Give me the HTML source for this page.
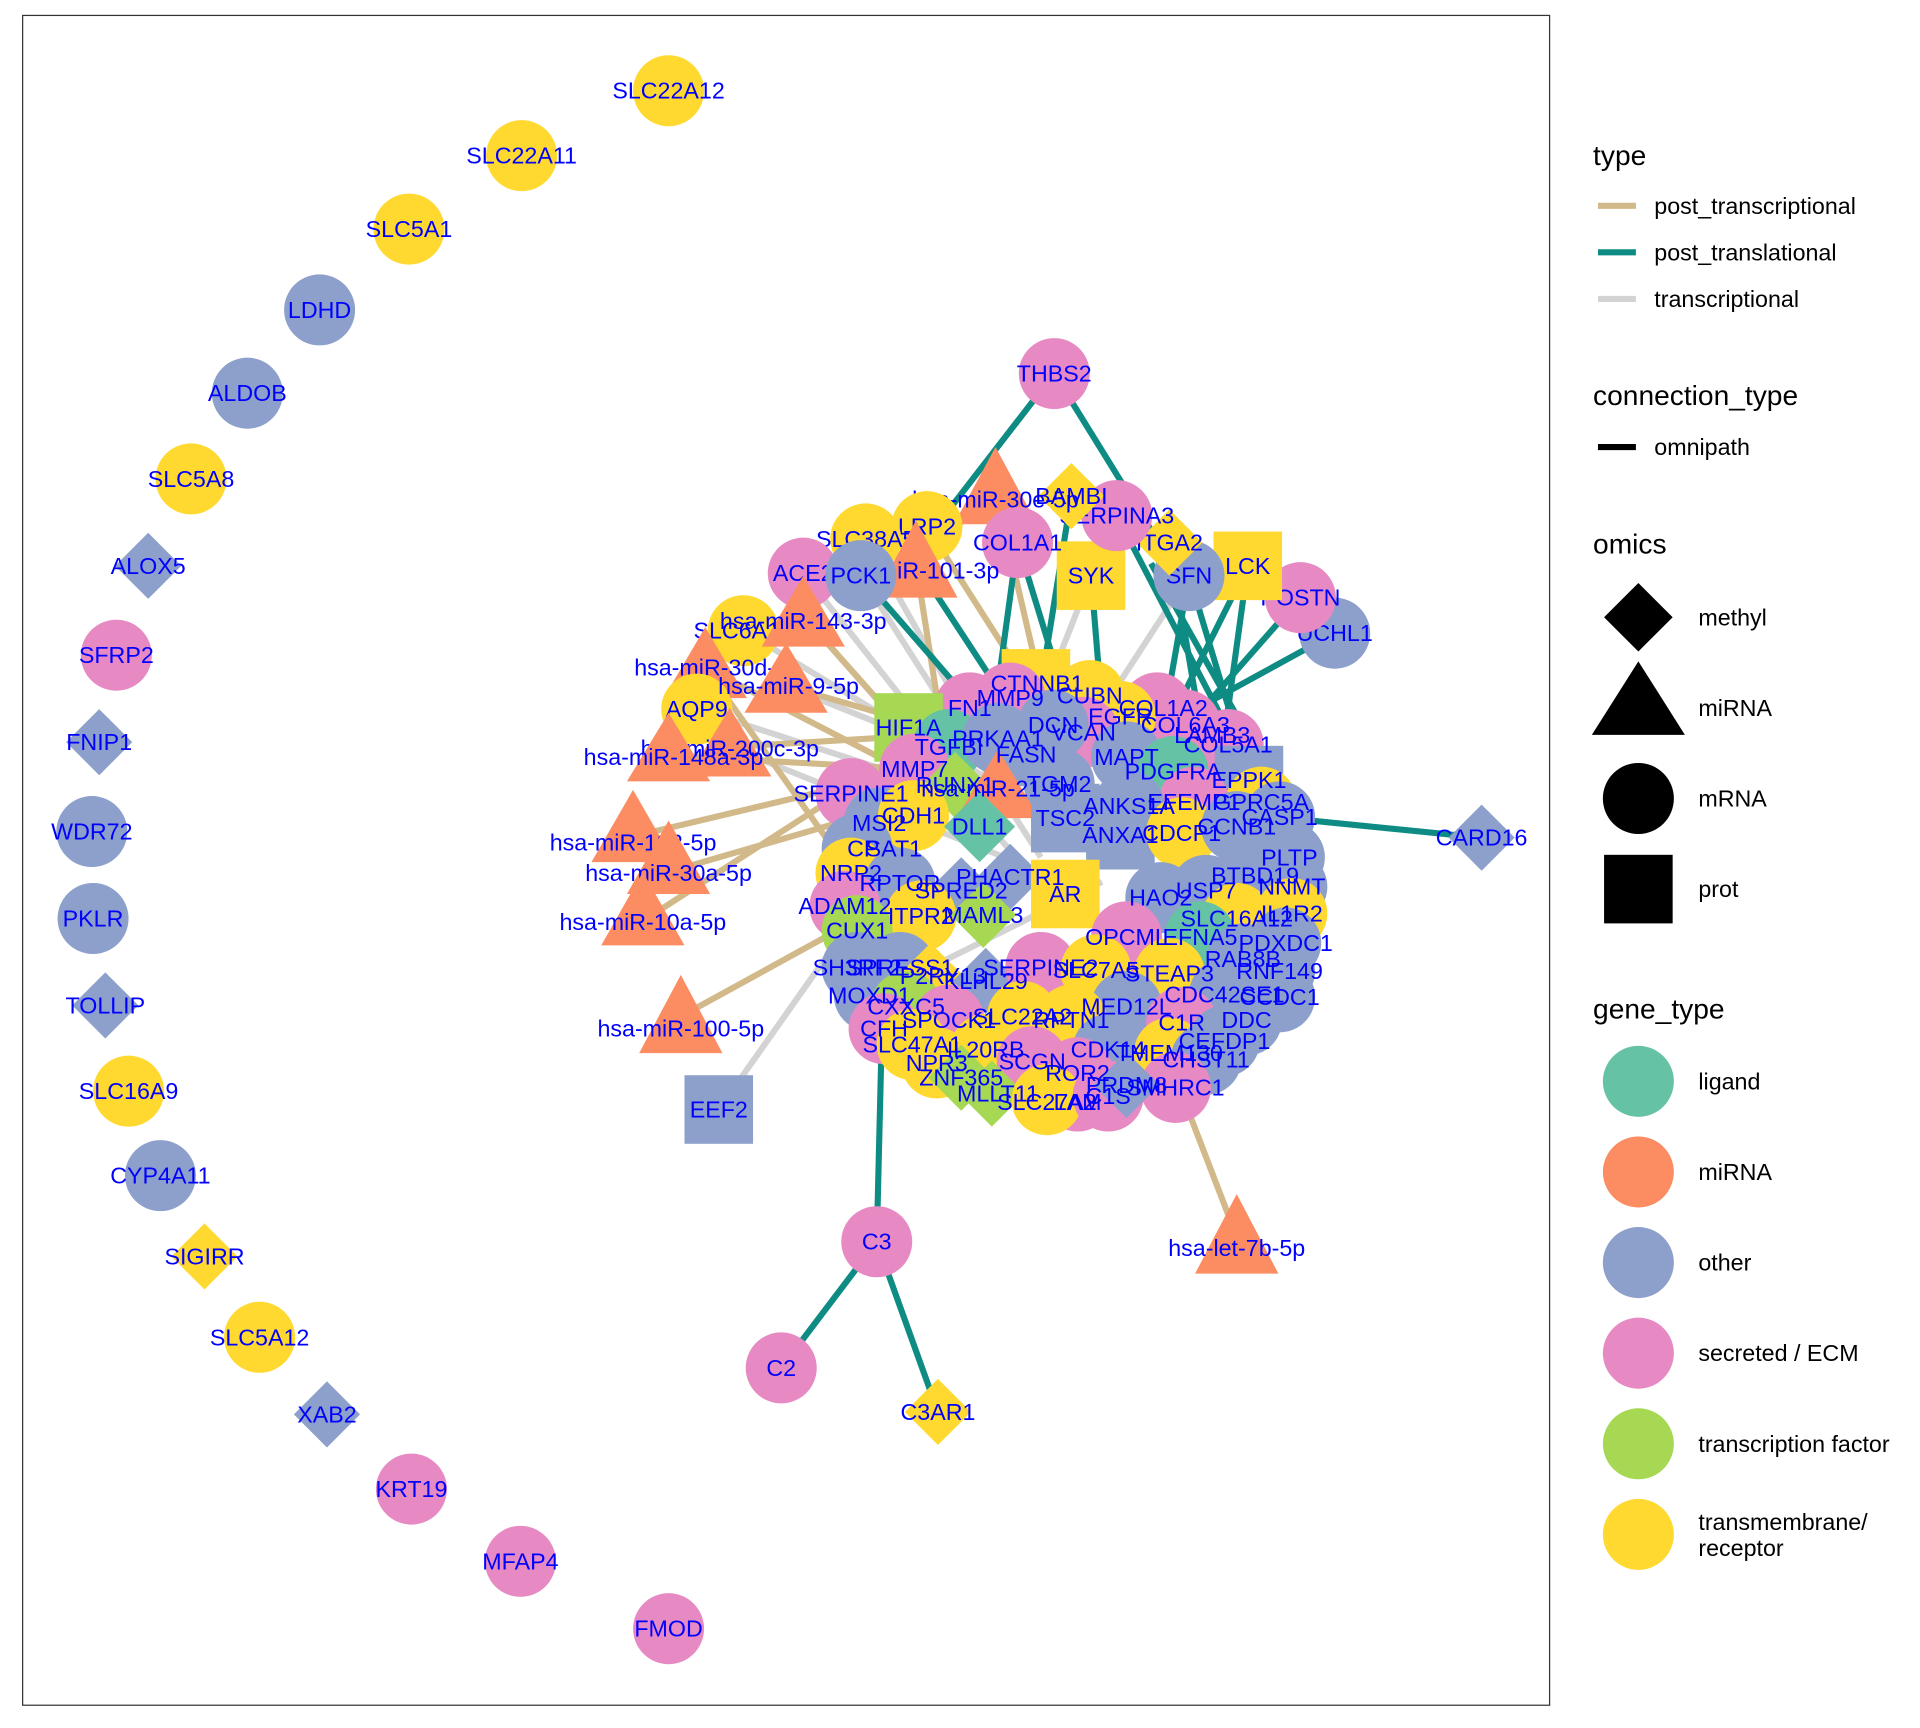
<!DOCTYPE html>
<html><head><meta charset="utf-8"><style>
html,body{margin:0;padding:0;background:#fff;}
svg{display:block;}
text{font-family:"Liberation Sans",Arial,sans-serif;}
.l{fill:#0000FF;font-size:19px;text-anchor:middle;dominant-baseline:central;}
.g{fill:#000;font-size:19px;dominant-baseline:central;}
.h{fill:#000;font-size:23px;dominant-baseline:central;}
.Y{fill:#FFD92F}.O{fill:#8DA0CB}.P{fill:#E78AC3}.T{fill:#66C2A5}.M{fill:#FC8D62}.F{fill:#A6D854}
.et{stroke:#0E8C84;stroke-width:5;fill:none}
.en{stroke:#D2B98A;stroke-width:5;fill:none}
.eg{stroke:#D3D3D3;stroke-width:5;fill:none}
</style></head><body>
<svg width="1920" height="1728" viewBox="0 0 1568 1411" xmlns="http://www.w3.org/2000/svg">
<rect x="18.5" y="12.5" width="1247" height="1380" fill="#fff" stroke="#333" stroke-width="1"/>
<g class="eg">
<path d="M587,906 L690,760"/><path d="M891,470 L840,600"/><path d="M971,470 L880,610"/><path d="M642,560 L840,640"/><path d="M607,515 L830,650"/><path d="M707,440 L820,640"/><path d="M656,468 L800,650"/><path d="M656,503 L830,700"/><path d="M569,579 L820,660"/><path d="M596,610 L870,720"/><path d="M703,470 L850,700"/><path d="M760,790 L900,720"/>
</g>
<g class="en">
<path d="M556,830 L720,740"/><path d="M1010,1010 L960,880"/><path d="M517,683 L740,630"/><path d="M546,712 L760,650"/><path d="M525,752 L730,620"/><path d="M550,617 L780,630"/><path d="M596,610 L760,600"/><path d="M576,545 L760,640"/><path d="M642,560 L780,600"/><path d="M656,503 L760,620"/><path d="M748,460 L770,600"/><path d="M813,400 L760,450"/><path d="M813,400 L850,560"/><path d="M757,430 L840,560"/><path d="M576,545 L700,720"/>
</g>
<g class="et">
<path d="M861,305 L745,455"/><path d="M861,305 L960,465"/><path d="M716,1014 L638,1117"/><path d="M716,1014 L766,1153"/><path d="M716,1014 L720,850"/><path d="M1210,684 L1040,667"/><path d="M1090,517 L975,580"/><path d="M1062,488 L990,570"/><path d="M1019,462 L960,580"/><path d="M1019,462 L1000,600"/><path d="M971,470 L950,590"/><path d="M971,470 L1010,600"/><path d="M955,443 L980,590"/><path d="M891,470 L900,580"/><path d="M912,421 L1000,590"/><path d="M831,443 L815,560"/><path d="M831,443 L870,570"/><path d="M875,405 L850,560"/><path d="M748,460 L820,570"/><path d="M703,470 L790,570"/><path d="M940,460 L1030,620"/>
</g>
<circle class="Y" cx="546" cy="74" r="29"/><text class="l" x="546" y="74">SLC22A12</text>
<circle class="Y" cx="426" cy="127" r="29"/><text class="l" x="426" y="127">SLC22A11</text>
<circle class="Y" cx="334" cy="187" r="29"/><text class="l" x="334" y="187">SLC5A1</text>
<circle class="O" cx="261" cy="253" r="29"/><text class="l" x="261" y="253">LDHD</text>
<circle class="O" cx="202" cy="321" r="29"/><text class="l" x="202" y="321">ALDOB</text>
<circle class="Y" cx="156" cy="391" r="29"/><text class="l" x="156" y="391">SLC5A8</text>
<polygon class="O" points="121,435 148,462 121,489 94,462"/><text class="l" x="121" y="462">ALOX5</text>
<circle class="P" cx="95" cy="535" r="29"/><text class="l" x="95" y="535">SFRP2</text>
<polygon class="O" points="81,579 108,606 81,633 54,606"/><text class="l" x="81" y="606">FNIP1</text>
<circle class="O" cx="75" cy="679" r="29"/><text class="l" x="75" y="679">WDR72</text>
<circle class="O" cx="76" cy="750" r="29"/><text class="l" x="76" y="750">PKLR</text>
<polygon class="O" points="86,794 113,821 86,848 59,821"/><text class="l" x="86" y="821">TOLLIP</text>
<circle class="Y" cx="105" cy="891" r="29"/><text class="l" x="105" y="891">SLC16A9</text>
<circle class="O" cx="131" cy="960" r="29"/><text class="l" x="131" y="960">CYP4A11</text>
<polygon class="Y" points="167,999 194,1026 167,1053 140,1026"/><text class="l" x="167" y="1026">SIGIRR</text>
<circle class="Y" cx="212" cy="1092" r="29"/><text class="l" x="212" y="1092">SLC5A12</text>
<polygon class="O" points="267,1128 294,1155 267,1182 240,1155"/><text class="l" x="267" y="1155">XAB2</text>
<circle class="P" cx="336" cy="1216" r="29"/><text class="l" x="336" y="1216">KRT19</text>
<circle class="P" cx="425" cy="1275" r="29"/><text class="l" x="425" y="1275">MFAP4</text>
<circle class="P" cx="546" cy="1330" r="29"/><text class="l" x="546" y="1330">FMOD</text>
<circle class="P" cx="861" cy="305" r="29"/><text class="l" x="861" y="305">THBS2</text>
<polygon class="O" points="1210,657 1237,684 1210,711 1183,684"/><text class="l" x="1210" y="684">CARD16</text>
<circle class="P" cx="638" cy="1117" r="29"/><text class="l" x="638" y="1117">C2</text>
<polygon class="Y" points="766,1126 793,1153 766,1180 739,1153"/><text class="l" x="766" y="1153">C3AR1</text>
<circle class="P" cx="716" cy="1014" r="29"/><text class="l" x="716" y="1014">C3</text>
<polygon class="M" points="1010,975 1044,1040 976,1040"/><text class="l" x="1010" y="1019">hsa-let-7b-5p</text>
<rect class="O" x="559" y="878" width="56" height="56"/><text class="l" x="587" y="906">EEF2</text>
<polygon class="M" points="556,796 590,860 522,860"/><text class="l" x="556" y="840">hsa-miR-100-5p</text>
<circle class="O" cx="1090" cy="517" r="29"/><text class="l" x="1090" y="517">UCHL1</text>
<circle class="P" cx="1062" cy="488" r="29"/><text class="l" x="1062" y="488">POSTN</text>
<rect class="Y" x="991" y="434" width="56" height="56"/><text class="l" x="1019" y="462">LCK</text>
<circle class="O" cx="971" cy="470" r="29"/><text class="l" x="971" y="470">SFN</text>
<polygon class="Y" points="955,416 982,443 955,470 928,443"/><text class="l" x="955" y="443">ITGA2</text>
<rect class="Y" x="863" y="442" width="56" height="56"/><text class="l" x="891" y="470">SYK</text>
<circle class="P" cx="912" cy="421" r="29"/><text class="l" x="912" y="421">SERPINA3</text>
<polygon class="Y" points="875,378 902,405 875,432 848,405"/><text class="l" x="875" y="405">BAMBI</text>
<polygon class="M" points="813,365 847,428 779,428"/><text class="l" x="813" y="408">hsa-miR-30e-5p</text>
<circle class="P" cx="831" cy="443" r="29"/><text class="l" x="831" y="443">COL1A1</text>
<circle class="Y" cx="757" cy="430" r="29"/><text class="l" x="757" y="430">LRP2</text>
<circle class="Y" cx="707" cy="440" r="29"/><text class="l" x="707" y="440">SLC38A5</text>
<polygon class="M" points="748,425 782,488 714,488"/><text class="l" x="748" y="466">hsa-miR-101-3p</text>
<circle class="P" cx="656" cy="468" r="29"/><text class="l" x="656" y="468">ACE2</text>
<circle class="O" cx="703" cy="470" r="29"/><text class="l" x="703" y="470">PCK1</text>
<circle class="Y" cx="607" cy="515" r="29"/><text class="l" x="607" y="515">SLC6A19</text>
<polygon class="M" points="656,470 690,528 622,528"/><text class="l" x="656" y="507">hsa-miR-143-3p</text>
<polygon class="M" points="576,512 610,570 542,570"/><text class="l" x="586" y="545">hsa-miR-30d-5p</text>
<circle class="Y" cx="569" cy="579" r="29"/><text class="l" x="569" y="579">AQP9</text>
<polygon class="M" points="642,525 676,582 608,582"/><text class="l" x="644" y="560">hsa-miR-9-5p</text>
<polygon class="M" points="596,578 630,634 562,634"/><text class="l" x="596" y="611">hsa-miR-200c-3p</text>
<polygon class="M" points="546,582 580,638 512,638"/><text class="l" x="550" y="618">hsa-miR-148a-3p</text>
<polygon class="M" points="517,645 551,704 483,704"/><text class="l" x="517" y="688">hsa-miR-192-5p</text>
<polygon class="M" points="546,670 580,730 512,730"/><text class="l" x="546" y="713">hsa-miR-30a-5p</text>
<polygon class="M" points="525,712 559,772 491,772"/><text class="l" x="525" y="753">hsa-miR-10a-5p</text>
<g>
<rect class="Y" x="818" y="530" width="56" height="56"/>
<circle class="Y" cx="890" cy="568" r="29"/><circle class="P" cx="825" cy="570" r="29"/><circle class="P" cx="792" cy="578" r="29"/>
<circle class="P" cx="945" cy="578" r="29"/><circle class="P" cx="968" cy="592" r="29"/><circle class="P" cx="1003" cy="608" r="29"/>
<circle class="Y" cx="915" cy="585" r="29"/><circle class="P" cx="885" cy="598" r="29"/><circle class="O" cx="860" cy="592" r="29"/>
<rect class="F" x="714" y="566" width="56" height="56"/>
<circle class="T" cx="775" cy="608" r="29"/><circle class="O" cx="815" cy="603" r="29"/>
<rect class="O" x="810" y="592" width="56" height="50"/>
<circle class="O" cx="920" cy="618" r="29"/><circle class="T" cx="958" cy="630" r="29"/>
<rect class="O" x="992" y="609" width="56" height="56"/>
<circle class="Y" cx="1030" cy="655" r="29"/><circle class="P" cx="975" cy="655" r="29"/>
<circle class="P" cx="747" cy="628" r="29"/><circle class="P" cx="695" cy="648" r="29"/>
<polygon class="F" points="780,614 807,641 780,668 753,641"/>
<circle class="O" cx="865" cy="640" r="29"/><circle class="O" cx="922" cy="658" r="29"/>
<circle class="O" cx="1045" cy="667" r="29"/>
<polygon class="M" points="815,612 849,668 781,668"/>
<circle class="O" cx="718" cy="672" r="29"/><circle class="Y" cx="746" cy="666" r="29"/>
<polygon class="T" points="800,646 829,675 800,704 771,675"/>
<rect class="O" x="842" y="640" width="56" height="56"/><rect class="O" x="887" y="654" width="56" height="56"/>
<circle class="Y" cx="965" cy="680" r="29"/><circle class="O" cx="1010" cy="675" r="29"/><circle class="O" cx="1053" cy="700" r="29"/>
<circle class="O" cx="700" cy="693" r="29"/><circle class="Y" cx="695" cy="713" r="29"/><circle class="O" cx="735" cy="721" r="29"/>
<polygon class="O" points="825,689 852,716 825,743 798,716"/><polygon class="O" points="785,700 812,727 785,754 758,727"/>
<rect class="Y" x="842" y="702" width="56" height="56"/>
<circle class="O" cx="948" cy="733" r="29"/><circle class="O" cx="985" cy="727" r="29"/><circle class="O" cx="1025" cy="715" r="29"/><circle class="O" cx="1055" cy="724" r="29"/>
<circle class="P" cx="690" cy="740" r="29"/><circle class="Y" cx="752" cy="748" r="29"/>
<polygon class="F" points="803,720 830,747 803,774 776,747"/>
<circle class="Y" cx="1010" cy="750" r="29"/><circle class="Y" cx="1055" cy="746" r="29"/>
<circle class="F" cx="700" cy="760" r="29"/><circle class="P" cx="920" cy="765" r="29"/><circle class="T" cx="980" cy="765" r="29"/><circle class="O" cx="1050" cy="770" r="29"/>
<circle class="O" cx="700" cy="790" r="29"/><circle class="O" cx="735" cy="790" r="29"/>
<polygon class="Y" points="760,770 787,797 760,824 733,797"/><polygon class="O" points="805,774 832,801 805,828 778,801"/>
<circle class="P" cx="850" cy="790" r="29"/><circle class="Y" cx="895" cy="792" r="29"/><circle class="Y" cx="955" cy="795" r="29"/>
<circle class="O" cx="1015" cy="783" r="29"/><circle class="O" cx="1045" cy="793" r="29"/>
<circle class="O" cx="710" cy="813" r="29"/><circle class="F" cx="740" cy="822" r="29"/><circle class="O" cx="920" cy="822" r="29"/>
<circle class="O" cx="1000" cy="812" r="29"/><circle class="O" cx="1045" cy="814" r="29"/>
<circle class="P" cx="722" cy="840" r="29"/><circle class="P" cx="775" cy="833" r="29"/><circle class="Y" cx="835" cy="830" r="29"/><circle class="Y" cx="875" cy="833" r="29"/>
<circle class="P" cx="965" cy="835" r="29"/><circle class="O" cx="1018" cy="833" r="29"/>
<circle class="Y" cx="745" cy="853" r="29"/><circle class="Y" cx="805" cy="857" r="29"/><circle class="O" cx="1000" cy="850" r="29"/>
<circle class="Y" cx="765" cy="868" r="29"/><circle class="P" cx="843" cy="867" r="29"/><circle class="O" cx="905" cy="857" r="29"/>
<circle class="Y" cx="955" cy="860" r="29"/><circle class="O" cx="985" cy="865" r="29"/>
<polygon class="F" points="785,853 812,880 785,907 758,880"/><polygon class="F" points="810,866 837,893 810,920 783,893"/>
<circle class="P" cx="880" cy="895" r="29"/><circle class="P" cx="880" cy="876" r="29"/><circle class="Y" cx="855" cy="898" r="29"/>
<circle class="P" cx="960" cy="888" r="29"/><circle class="P" cx="905" cy="895" r="29"/><polygon class="O" points="920,859 947,886 920,913 893,886"/>
</g>
<g>
<text class="l" x="847" y="558">CTNNB1</text><text class="l" x="890" y="568">CUBN</text><text class="l" x="825" y="570">MMP9</text><text class="l" x="792" y="578">FN1</text>
<text class="l" x="742" y="594">HIF1A</text><text class="l" x="775" y="610">TGFBI</text><text class="l" x="815" y="603">PRKAA1</text>
<text class="l" x="860" y="592">DCN</text><text class="l" x="915" y="585">EGFR</text><text class="l" x="950" y="578">COL1A2</text>
<text class="l" x="968" y="592">COL6A3</text><text class="l" x="990" y="600">LAMB3</text><text class="l" x="885" y="598">VCAN</text>
<text class="l" x="838" y="616">FASN</text><text class="l" x="920" y="618">MAPT</text><text class="l" x="958" y="630">PDGFRA</text>
<text class="l" x="1003" y="608">COL5A1</text><text class="l" x="1020" y="637">EPPK1</text><text class="l" x="747" y="628">MMP7</text>
<text class="l" x="780" y="641">RUNX1</text><text class="l" x="815" y="644">hsa-miR-21-5p</text><text class="l" x="865" y="640">TGM2</text>
<text class="l" x="922" y="658">ANKS1A</text><text class="l" x="975" y="655">EFEMP1</text><text class="l" x="1030" y="655">GPRC5A</text>
<text class="l" x="1045" y="667">CASP1</text><text class="l" x="695" y="648">SERPINE1</text><text class="l" x="718" y="672">MSI2</text>
<text class="l" x="746" y="666">CDH1</text><text class="l" x="800" y="675">DLL1</text><text class="l" x="870" y="668">TSC2</text>
<text class="l" x="915" y="682">ANXA1</text><text class="l" x="965" y="680">CDCP1</text><text class="l" x="1010" y="675">CCNB1</text>
<text class="l" x="1053" y="700">PLTP</text><text class="l" x="705" y="693">CP</text><text class="l" x="730" y="693">SAT1</text>
<text class="l" x="695" y="713">NRP2</text><text class="l" x="735" y="721">RPTOR</text><text class="l" x="825" y="716">PHACTR1</text>
<text class="l" x="785" y="727">SPRED2</text><text class="l" x="870" y="730">AR</text><text class="l" x="948" y="733">HAO2</text>
<text class="l" x="985" y="727">USP7</text><text class="l" x="1025" y="715">BTBD19</text><text class="l" x="1055" y="724">NNMT</text>
<text class="l" x="690" y="740">ADAM12</text><text class="l" x="752" y="748">ITPR2</text><text class="l" x="803" y="747">MAML3</text>
<text class="l" x="1010" y="750">SLC16A12</text><text class="l" x="1055" y="746">IL1R2</text><text class="l" x="700" y="760">CUX1</text>
<text class="l" x="920" y="765">OPCML</text><text class="l" x="980" y="765">EFNA5</text><text class="l" x="1050" y="770">PDXDC1</text>
<text class="l" x="700" y="790">SH3RF2</text><text class="l" x="735" y="790">SPRESS1</text><text class="l" x="770" y="797">P2RY13</text>
<text class="l" x="805" y="801">KLHL29</text><text class="l" x="850" y="790">SERPINE2</text><text class="l" x="895" y="792">SLC7A5</text>
<text class="l" x="955" y="795">STEAP3</text><text class="l" x="1015" y="783">RAB8B</text><text class="l" x="1045" y="793">RNF149</text>
<text class="l" x="710" y="813">MOXD1</text><text class="l" x="740" y="822">CXXC5</text><text class="l" x="920" y="822">MED12L</text>
<text class="l" x="1000" y="812">CDC42SE1</text><text class="l" x="1045" y="814">CCDC1</text><text class="l" x="722" y="840">CFH</text>
<text class="l" x="775" y="833">SPOCK1</text><text class="l" x="835" y="830">SLC22A2</text><text class="l" x="875" y="833">RPTN1</text>
<text class="l" x="965" y="835">C1R</text><text class="l" x="1018" y="833">DDC</text><text class="l" x="745" y="853">SLC47A1</text>
<text class="l" x="805" y="857">IL20RB</text><text class="l" x="1000" y="850">CEFDP1</text><text class="l" x="765" y="868">NPR3</text>
<text class="l" x="843" y="867">SCGN</text><text class="l" x="905" y="857">CDK14</text><text class="l" x="955" y="860">TMEM130</text>
<text class="l" x="985" y="865">CHST11</text><text class="l" x="785" y="880">ZNF365</text><text class="l" x="815" y="893">MLLT11</text>
<text class="l" x="880" y="876">ROR2</text><text class="l" x="855" y="900">SLC27A2</text><text class="l" x="880" y="900">LAM</text>
<text class="l" x="920" y="886">PRDM8</text><text class="l" x="905" y="895">C1S</text><text class="l" x="960" y="888">SMHRC1</text>
</g>
<text class="h" x="1301" y="127">type</text>
<line x1="1305" y1="168" x2="1336" y2="168" stroke="#D2B98A" stroke-width="5"/><text class="g" x="1351" y="168">post_transcriptional</text>
<line x1="1305" y1="206" x2="1336" y2="206" stroke="#0E8C84" stroke-width="5"/><text class="g" x="1351" y="206">post_translational</text>
<line x1="1305" y1="244" x2="1336" y2="244" stroke="#D3D3D3" stroke-width="5"/><text class="g" x="1351" y="244">transcriptional</text>
<text class="h" x="1301" y="323">connection_type</text>
<line x1="1305" y1="365" x2="1336" y2="365" stroke="#000" stroke-width="5"/><text class="g" x="1351" y="365">omnipath</text>
<text class="h" x="1301" y="444">omics</text>
<polygon points="1338,476 1366,504 1338,532 1310,504" fill="#000"/><text class="g" x="1387" y="504">methyl</text>
<polygon points="1338,540 1376,600 1300,600" fill="#000"/><text class="g" x="1387" y="578">miRNA</text>
<circle cx="1338" cy="652" r="29" fill="#000"/><text class="g" x="1387" y="652">mRNA</text>
<rect x="1310" y="698" width="56" height="56" fill="#000"/><text class="g" x="1387" y="726">prot</text>
<text class="h" x="1301" y="824">gene_type</text>
<circle class="T" cx="1338" cy="883" r="29"/><text class="g" x="1387" y="883">ligand</text>
<circle class="M" cx="1338" cy="957" r="29"/><text class="g" x="1387" y="957">miRNA</text>
<circle class="O" cx="1338" cy="1031" r="29"/><text class="g" x="1387" y="1031">other</text>
<circle class="P" cx="1338" cy="1105" r="29"/><text class="g" x="1387" y="1105">secreted / ECM</text>
<circle class="F" cx="1338" cy="1179" r="29"/><text class="g" x="1387" y="1179">transcription factor</text>
<circle class="Y" cx="1338" cy="1253" r="29"/><text class="g" x="1387" y="1243">transmembrane/</text><text class="g" x="1387" y="1264">receptor</text>
</svg>
</body></html>
